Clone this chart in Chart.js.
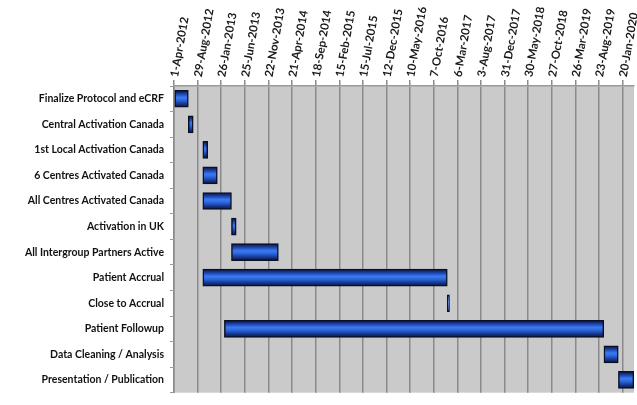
<!DOCTYPE html>
<html>
<head>
<meta charset="utf-8">
<script src="https://cdn.jsdelivr.net/npm/chart.js@4.4.1/dist/chart.umd.min.js"></script>
<style>
  html, body { margin: 0; padding: 0; background: #ffffff; overflow: hidden; }
  #chart { display: block; }
</style>
</head>
<body>
<canvas id="chart" width="637" height="405"></canvas>
<script>
// Study timeline: one bar per task, from start date to end date
const tasks = [
  'Finalize Protocol and eCRF',
  'Central Activation Canada',
  '1st Local Activation Canada',
  '6 Centres Activated Canada',
  'All Centres Activated Canada',
  'Activation in UK',
  'All Intergroup Partners Active',
  'Patient Accrual',
  'Close to Accrual',
  'Patient Followup',
  'Data Cleaning / Analysis',
  'Presentation / Publication'
];
const startDates = [
  '2012-04-01', '2012-07-01', '2012-10-01', '2012-10-01',
  '2012-10-01', '2013-04-01', '2013-04-01', '2012-10-01',
  '2017-01-01', '2013-02-15', '2019-09-23', '2019-12-24'
];
const endDates = [
  '2012-07-01', '2012-08-01', '2012-11-01', '2013-01-01',
  '2013-04-01', '2013-05-01', '2014-01-24', '2017-01-01',
  '2017-01-15', '2019-09-22', '2019-12-23', '2020-03-31'
];
// Axis range and tick spacing (in days)
const axisStart = '2012-04-01';
const axisEnd = '2020-04-01';
const tickStepDays = 150;

const MONTHS = ['Jan','Feb','Mar','Apr','May','Jun','Jul','Aug','Sep','Oct','Nov','Dec'];
const DAY_MS = 86400000;
function toUTC(s) { const [y, m, d] = s.split('-').map(Number); return Date.UTC(y, m - 1, d); }
const originMs = toUTC(axisStart);
function dayOffset(s) { return Math.round((toUTC(s) - originMs) / DAY_MS); }
function formatDay(n) {
  const d = new Date(originMs + n * DAY_MS);
  return d.getUTCDate() + '-' + MONTHS[d.getUTCMonth()] + '-' + d.getUTCFullYear();
}

const spans = tasks.map((_, i) => [dayOffset(startDates[i]), dayOffset(endDates[i])]);
const axisMax = dayOffset(axisEnd);

// Grey plotting surface behind the bars
const plotBackground = {
  id: 'plotBackground',
  beforeDraw(chart) {
    const { ctx, chartArea: a } = chart;
    ctx.save();
    ctx.fillStyle = '#cacaca';
    ctx.fillRect(a.left, a.top, a.right - a.left, a.bottom - a.top);
    ctx.restore();
  }
};

const BAR_THICKNESS = 17;
function barGradient(c) {
  const chart = c.chart;
  if (!chart.chartArea) return '#2a5cd0';
  const yc = chart.scales.y.getPixelForValue(c.dataIndex);
  const h = BAR_THICKNESS / 2;
  const g = chart.ctx.createLinearGradient(0, yc - h, 0, yc + h);
  g.addColorStop(0.0, '#08163d');
  g.addColorStop(0.18, '#183a98');
  g.addColorStop(0.42, '#3a7af5');
  g.addColorStop(0.58, '#2d66de');
  g.addColorStop(0.84, '#12307c');
  g.addColorStop(1.0, '#08163d');
  return g;
}

new Chart(document.getElementById('chart'), {
  type: 'bar',
  data: {
    labels: tasks,
    datasets: [{
      data: spans,
      backgroundColor: barGradient,
      borderColor: '#0b0f24',
      borderWidth: 1.5,
      borderSkipped: false,
      barThickness: BAR_THICKNESS
    }]
  },
  options: {
    indexAxis: 'y',
    responsive: false,
    devicePixelRatio: 1,
    animation: false,
    layout: { padding: { left: 0, right: 3, top: 0, bottom: 0 } },
    plugins: { legend: { display: false }, tooltip: { enabled: false } },
    scales: {
      x: {
        type: 'linear',
        position: 'top',
        min: 0,
        max: axisMax,
        afterBuildTicks(scale) {
          // one tick every tickStepDays from the axis start
          const t = [];
          for (let v = 0; v <= axisMax; v += tickStepDays) t.push({ value: v });
          scale.ticks = t;
        },
        afterFit(scale) {
          scale.height = 86;
          scale.paddingLeft = 0;
          scale.paddingRight = 0;
        },
        ticks: {
          stepSize: tickStepDays,
          minRotation: 80,
          maxRotation: 80,
          autoSkip: false,
          padding: 2,
          labelOffset: 14,
          color: '#1a1a1a',
          font: { family: 'Lato', size: 11.5, weight: 'bold' },
          callback: (v) => formatDay(v)
        },
        grid: {
          color: '#8a8a8a',
          lineWidth: 1.5,
          tickLength: 6,
          drawTicks: true
        },
        border: { color: '#9a9a9a', width: 1.5 }
      },
      y: {
        type: 'category',
        afterFit(scale) { scale.width = 174; },
        ticks: {
          padding: 6,
          color: '#111111',
          font: { family: 'Lato', size: 10.5, weight: 'bold' }
        },
        grid: {
          drawOnChartArea: false,
          drawTicks: true,
          tickLength: 4,
          color: '#9a9a9a',
          offset: true
        },
        border: { color: '#9a9a9a', width: 1 }
      }
    }
  },
  plugins: [plotBackground]
});
</script>
</body>
</html>
